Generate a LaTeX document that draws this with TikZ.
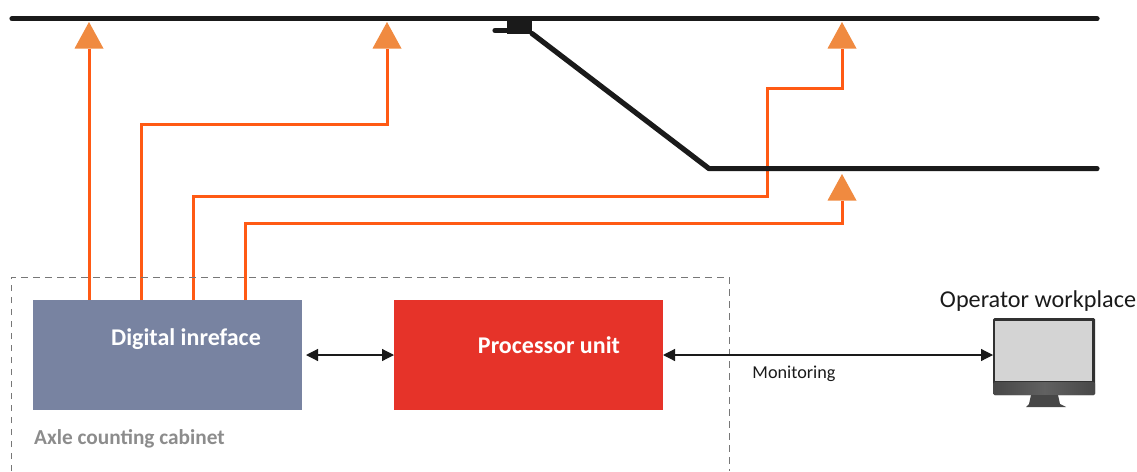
\documentclass[tikz,border=0pt]{standalone}
\usepackage{fontspec}
\setmainfont{Carlito}
\usetikzlibrary{arrows.meta, shapes.geometric}
\definecolor{acsignal}{HTML}{FF5A14}
\definecolor{acsensor}{HTML}{F08A40}
\definecolor{acblue}{HTML}{7883A1}
\definecolor{acred}{HTML}{E63329}
\definecolor{acgrey}{HTML}{8C8C8C}
\definecolor{acdark}{HTML}{1A1A1A}
\begin{document}
\begin{tikzpicture}[x=1pt, y=-1pt,
      unitbox/.style={rectangle, inner sep=0pt, outer sep=0pt, minimum width=269pt, minimum height=110pt},
      sensor/.style={isosceles triangle, isosceles triangle stretches, shape border rotate=90, fill=acsensor,
        inner sep=0pt, outer sep=0pt, minimum width=29pt, minimum height=26.5pt, anchor=apex},
      signal/.style={draw=acsignal, line width=3pt},
      track/.style={draw=acdark, line width=5.2pt, line cap=round},
      link/.style={draw=acdark, line width=1.2pt, {Triangle[length=12pt, width=12pt]}-{Triangle[length=12pt, width=12pt]}},
      boxlabel/.style={text=white, font=\fontsize{24}{28}\selectfont\bfseries, inner sep=0pt}]
      \useasboundingbox (0,0) rectangle (1137,471);
      \node[sensor] (senA) at (89,22) {};
      \node[sensor] (senB) at (387,22) {};
      \node[sensor] (senC) at (842,22) {};
      \node[sensor] (senD) at (842,174) {};
      \node[unitbox, fill=acblue] (iface) at (167.5,355) {};
      \node[unitbox, fill=acred] (proc) at (528.5,355) {};
      \node[boxlabel] (ifacelabel) at (186,339.5) {Digital inreface};
      \node[boxlabel] (proclabel) at (549,345.5) {Processor unit};
      \node[inner sep=0pt, text=acgrey, font=\fontsize{21.3}{25}\selectfont\bfseries, anchor=west] (cabinet) at (34,439) {Axle counting cabinet};
      \node[inner sep=0pt, font=\fontsize{18.2}{22}\selectfont, text=acdark] (monitoring) at (794,374) {Monitoring};
      \node[inner sep=0pt, font=\fontsize{24.2}{28}\selectfont, text=acdark] (operator) at (1038,301) {Operator workplace};
      \draw[signal] (iface.north -| senA.lower side) -- (senA.lower side);
      \draw[signal] ([xshift=108pt]iface.north west) -- ++(0,-176) -| (senB.lower side);
      \draw[signal] ([xshift=160pt]iface.north west) -- ++(0,-104) -- ++(574,0) -- ++(0,-108) -| (senC.lower side);
      \draw[signal] ([xshift=212pt]iface.north west) -- ++(0,-77) -| (senD.lower side);
      \coordinate (trackWest) at (12,18.8);
      \coordinate (trackEast) at (1097,18.8);
      \coordinate (branchEast) at (1097,168.6);
      \node[fill=acdark, inner sep=0pt, outer sep=0pt, minimum width=25pt, minimum height=14pt] (switch) at (519.5,26.5) {};
      \coordinate (stub) at (495,30.5);
      \draw[track] (trackWest) -- (trackEast);
      \draw[track] (stub) -- (switch.west |- stub);
      \draw[track, line join=round] (switch.south east) -- (709,168.6) -- (branchEast);
      \draw[acgrey!85!black, line width=1pt, dash pattern=on 6.5pt off 5.5pt] (11,471) -- (11,277) -- (729,277) -- (729,471);
      \node[rectangle, fill=acdark!90!white, rounded corners=1.5pt, inner sep=0pt, outer sep=0pt, minimum width=102pt, minimum height=77pt, anchor=north west] (workplace) at (993,318) {};
      \node[rectangle, fill=black!17, inner sep=0pt, minimum width=97pt, minimum height=60pt, anchor=north west] (screen) at (995,321) {};
      \node[rectangle, rounded corners=1.5pt, left color=black!72, right color=black!72, middle color=black!62, inner sep=0pt, minimum width=102pt, minimum height=13pt, anchor=north west] (chin) at (993,382) {};
      \fill[black!72] (1031,395) -- (1058,395) -- (1060,404) -- (1066,407) -- (1026,407) -- (1029,404) -- cycle;
      \draw[link] ([xshift=4pt]iface.east) -- (proc.west);
      \draw[link] (proc.east) -- (workplace.west |- proc.east);
    \end{tikzpicture}
\end{document}
